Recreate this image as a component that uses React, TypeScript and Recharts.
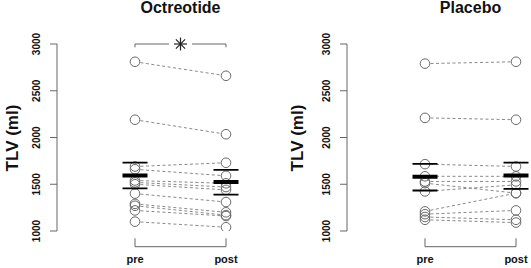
import React from 'react'
import { ComposedChart, Line, Scatter, XAxis, YAxis, ReferenceLine, ReferenceDot } from 'recharts'

// values
const categories = ['pre', 'post']
const yTicks = [1000, 1500, 2000, 2500, 3000]

const octreotidePre = [2810, 2190, 1690, 1660, 1540, 1520, 1500, 1400, 1290, 1270, 1220, 1100]
const octreotidePost = [2660, 2035, 1730, 1590, 1510, 1470, 1440, 1310, 1200, 1170, 1160, 1040]
const octreotideMean = [1593, 1523]
const octreotideSeLow = [1455, 1390]
const octreotideSeHigh = [1732, 1654]

const placeboPre = [2790, 2210, 1715, 1585, 1530, 1512, 1423, 1210, 1180, 1150, 1120]
const placeboPost = [2810, 2190, 1690, 1585, 1530, 1405, 1494, 1405, 1220, 1120, 1090]
const placeboMean = [1580, 1593]
const placeboSeLow = [1433, 1451]
const placeboSeHigh = [1718, 1732]

const W = 290
const H = 268
const Y_AXIS_W = 57
const RIGHT = 8
const PAD_L = 78
const PAD_R = 56
const GAP = W - Y_AXIS_W - RIGHT - PAD_L - PAD_R
const FONT = '"Liberation Sans", Arial, Helvetica, sans-serif'

const RingDot = (p: any) => <circle cx={p.cx} cy={p.cy} r={4.8} fill="none" stroke="#6a6a6a" strokeWidth={1} />
const MaskDot = (p: any) => <circle cx={p.cx} cy={p.cy} r={4.8} fill="#fff" />
const hBar = (w: number) => (p: any) => (
  <line x1={p.cx - 12.5} x2={p.cx + 12.5} y1={p.cy} y2={p.cy} stroke="#000" strokeWidth={w} />
)

const YTick = ({ x, y, payload }: any) => (
  <text x={x} y={y} transform={`rotate(-90 ${x} ${y})`} textAnchor="middle" fontSize={10} fontWeight="bold" fill="#111" fontFamily={FONT}>
    {payload.value}
  </text>
)

const XTick = ({ x, y, payload, index }: any) => {
  const yb = y + 15.7
  return (
    <g>
      <line x1={x} x2={x} y1={yb - 8.4} y2={yb} stroke="#666" />
      {index === 0 && <line x1={x} x2={x + GAP} y1={yb} y2={yb} stroke="#666" />}
      <text x={x} y={yb + 16.5} textAnchor="middle" fontSize={11} fontWeight="bold" fill="#111" fontFamily={FONT}>
        {categories[payload.value - 1]}
      </text>
    </g>
  )
}

const Star = (p: any) => {
  const r = 6.5
  const d = r * Math.SQRT1_2
  return (
    <g stroke="#222" strokeWidth={1.2}>
      <rect x={p.cx - 11.5} y={p.cy - 3} width={23} height={6} fill="#fff" stroke="none" />
      <line x1={p.cx - r} x2={p.cx + r} y1={p.cy} y2={p.cy} />
      <line x1={p.cx} x2={p.cx} y1={p.cy - r} y2={p.cy + r} />
      <line x1={p.cx - d} x2={p.cx + d} y1={p.cy - d} y2={p.cy + d} />
      <line x1={p.cx - d} x2={p.cx + d} y1={p.cy + d} y2={p.cy - d} />
    </g>
  )
}

function Panel({ left, title, pre, post, mean, seLow, seHigh, sig, labelX }: any) {
  const points = [...pre.map((y: number) => ({ x: 1, y })), ...post.map((y: number) => ({ x: 2, y }))]
  const pairs = pre.map((y: number, i: number) => [{ x: 1, y }, { x: 2, y: post[i] }])
  const toPts = (arr: number[]) => arr.map((y, i) => ({ x: i + 1, y }))

  return (
    <div style={{ position: 'absolute', left, top: 0, width: W, height: H }}>
      <div style={{ position: 'absolute', left: Y_AXIS_W + PAD_L + GAP / 2 - 100, top: 0, width: 200, height: 16, lineHeight: '16px', textAlign: 'center', fontFamily: FONT, fontSize: 16, fontWeight: 'bold', color: '#111' }}>
        {title}
      </div>
      <div style={{ position: 'absolute', left: labelX - 50, top: 137.5 - 9, width: 100, height: 18, lineHeight: '18px', textAlign: 'center', fontFamily: FONT, fontSize: 17, fontWeight: 'bold', color: '#111', transform: 'rotate(-90deg)' }}>
        TLV (ml)
      </div>
      <ComposedChart width={W} height={H} margin={{ top: 44, right: RIGHT, bottom: 0, left: 0 }}>
        <XAxis type="number" dataKey="x" domain={[1, 2]} ticks={[1, 2]} padding={{ left: PAD_L, right: PAD_R }} height={37} axisLine={false} tickLine={false} tickSize={0} tickMargin={0} tick={<XTick />} interval={0} />
        <YAxis type="number" dataKey="y" domain={[1000, 3000]} ticks={yTicks} width={Y_AXIS_W} tickSize={7} tickMargin={10} stroke="#666" tick={<YTick />} interval={0} allowDataOverflow />
        {pairs.map((d: any, i: number) => (
          <Line key={i} data={d} dataKey="y" stroke="#8a8a8a" strokeWidth={1} strokeDasharray="3 2.5" dot={false} activeDot={false} isAnimationActive={false} />
        ))}
        <Scatter data={points} shape={MaskDot} isAnimationActive={false} />
        <Scatter data={points} shape={RingDot} isAnimationActive={false} />
        <Scatter data={toPts(seLow)} shape={hBar(1.8)} isAnimationActive={false} />
        <Scatter data={toPts(seHigh)} shape={hBar(1.8)} isAnimationActive={false} />
        <Scatter data={toPts(mean)} shape={hBar(4)} isAnimationActive={false} />
        {sig && (
          <>
            <ReferenceLine segment={[{ x: 1, y: 3000 }, { x: 2, y: 3000 }]} stroke="#666" ifOverflow="visible" />
            <ReferenceLine segment={[{ x: 1, y: 3000 }, { x: 1, y: 2965 }]} stroke="#666" ifOverflow="visible" />
            <ReferenceLine segment={[{ x: 2, y: 3000 }, { x: 2, y: 2965 }]} stroke="#666" ifOverflow="visible" />
            <ReferenceDot x={1.5} y={3000} shape={Star} ifOverflow="visible" />
          </>
        )}
      </ComposedChart>
    </div>
  )
}

export default function App() {
  return (
    <div style={{ position: 'fixed', left: 0, top: 0, width: 531, height: 268, overflow: 'hidden', background: '#fff' }}>
      <Panel left={0} title="Octreotide" pre={octreotidePre} post={octreotidePost} mean={octreotideMean} seLow={octreotideSeLow} seHigh={octreotideSeHigh} sig labelX={13} />
      <Panel left={290} title="Placebo" pre={placeboPre} post={placeboPost} mean={placeboMean} seLow={placeboSeLow} seHigh={placeboSeHigh} sig={false} labelX={8} />
    </div>
  )
}
